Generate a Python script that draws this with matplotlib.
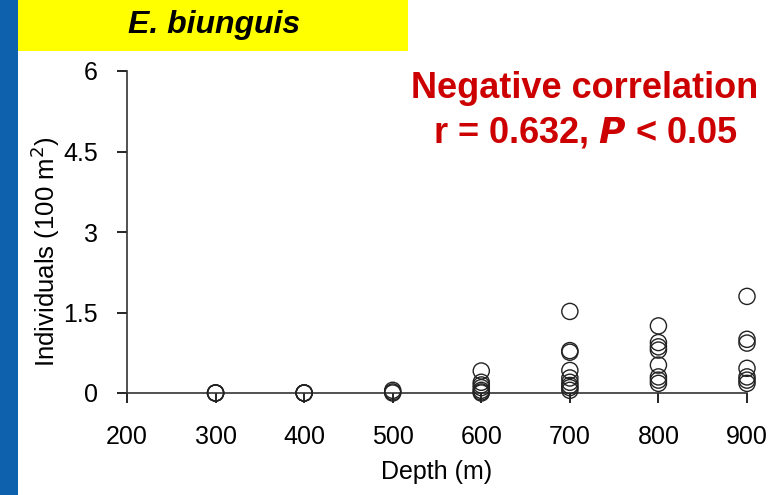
import matplotlib
matplotlib.use("Agg")
import matplotlib.pyplot as plt
from matplotlib.patches import Rectangle

plt.rcParams['font.family'] = ['Liberation Sans', 'DejaVu Sans']

# depth groups (m) and individuals per 100 m2
depth_300 = [0, 0, 0, 0]
depth_400 = [0, 0, 0, 0]
depth_500 = [0, 0.02, 0.05]
depth_600 = [0.41, 0.2, 0.15, 0.1, 0.05, 0.02, 0]
depth_700 = [1.52, 0.79, 0.76, 0.42, 0.28, 0.2, 0.14, 0.1, 0.05]
depth_800 = [1.25, 0.94, 0.86, 0.8, 0.52, 0.3, 0.24, 0.18]
depth_900 = [1.8, 1.0, 0.93, 0.46, 0.3, 0.24, 0.18]

depths = [300, 400, 500, 600, 700, 800, 900]
values = [depth_300, depth_400, depth_500, depth_600, depth_700, depth_800, depth_900]

x_ticks = [200, 300, 400, 500, 600, 700, 800, 900]
y_ticks = [0, 1.5, 3, 4.5, 6]
y_tick_labels = ['0', '1.5', '3', '4.5', '6']

fig = plt.figure(figsize=(7.81, 4.95), dpi=100)
fig.patch.set_facecolor('white')

# blue strip on the left and yellow title box
fig.add_artist(Rectangle((0, 0), 18 / 781, 1, transform=fig.transFigure,
                         facecolor='#0e62ad', edgecolor='none'))
fig.add_artist(Rectangle((18 / 781, 1 - 51 / 495), 390 / 781, 51 / 495,
                         transform=fig.transFigure, facecolor='#ffff00', edgecolor='none'))
fig.text(214 / 781, 1 - 25 / 495, 'E. biunguis', ha='center', va='center',
         fontsize=23, fontweight='bold', fontstyle='italic', color='black')

# axes: x 200..900 -> px 127..747, y 0..6 -> px 393..71
ax = fig.add_axes([127 / 781, 1 - 393 / 495, 620 / 781, 322 / 495])
for d, vals in zip(depths, values):
    ax.scatter([d] * len(vals), vals, s=135, facecolors='none',
               edgecolors='#222222', linewidths=1.0, clip_on=False, zorder=3)

ax.set_xlim(200, 900)
ax.set_ylim(0, 6)
ax.set_xticks(x_ticks)
ax.set_yticks(y_ticks)
ax.set_yticklabels(y_tick_labels)
ax.tick_params(axis='both', direction='out', length=7, width=1.2, labelsize=18,
               colors='black')
ax.tick_params(axis='x', pad=16)
ax.tick_params(axis='y', pad=14)
for side in ['top', 'right']:
    ax.spines[side].set_visible(False)
for side in ['left', 'bottom']:
    ax.spines[side].set_linewidth(1.2)
    ax.spines[side].set_color('#333333')

ax.set_xlabel('Depth (m)', fontsize=18, labelpad=8)
ax.set_ylabel('Individuals (100 m$^2$)', fontsize=18.5)
ax.yaxis.set_label_coords(-0.105, 0.438)

ax.text(585 / 781, 1 - 88 / 495, 'Negative correlation', transform=fig.transFigure,
        ha='center', va='center', fontsize=26, fontweight='bold', color='#cc0000')
ax.text(585 / 781, 1 - 133 / 495, 'r = 0.632, $\\boldsymbol{P}$ < 0.05',
        transform=fig.transFigure, ha='center', va='center', fontsize=26,
        fontweight='bold', color='#cc0000')

fig.savefig('out.png', dpi=100)
